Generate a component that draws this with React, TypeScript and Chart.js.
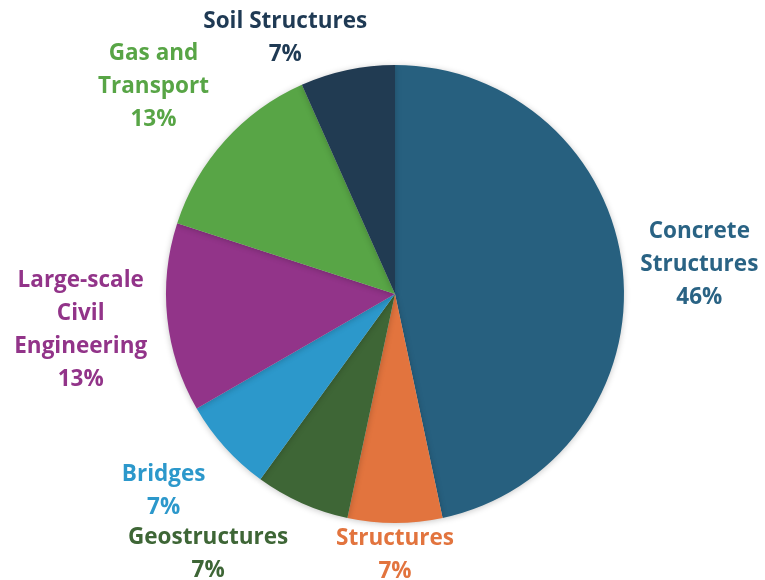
import React, { useEffect, useRef } from "react";
import { Chart, registerables } from "chart.js";

Chart.register(...registerables);

const categories: string[][] = [
  ["Concrete", "Structures"],
  ["Structures"],
  ["Geostructures"],
  ["Bridges"],
  ["Large-scale", "Civil", "Engineering"],
  ["Gas and", "Transport"],
  ["Soil Structures"],
];
const counts: number[] = [7, 1, 1, 1, 2, 2, 1];
const percentLabels: string[] = ["46%", "7%", "7%", "7%", "13%", "13%", "7%"];
const sliceColors: string[] = ["#27607F", "#E2743E", "#3E6636", "#2C98CB", "#923489", "#58A546", "#213B52"];
const textColors: string[] = ["#2A6384", "#E2743E", "#3E6636", "#2C98CB", "#923489", "#58A546", "#1F3A54"];
// label placement: extra distance beyond the outer radius and angle nudge (degrees)
const labelGap: number[] = [77, 29, 89, 73, 87, 91, 52];
const labelAngleAdj: number[] = [0, 0, 12, 2, 0, -1, -11];

const FONT = "bold 22.5px 'Open Sans', 'Noto Sans', sans-serif";
const LINE_H = 33;
const BASELINE_SHIFT = 3;

const labelPlugin = {
  id: "outsideLabels",
  afterDatasetsDraw(chart: any) {
    const ctx = chart.ctx;
    const meta = chart.getDatasetMeta(0);
    ctx.save();
    ctx.font = FONT;
    ctx.textAlign = "center";
    ctx.textBaseline = "middle";
    meta.data.forEach((arc: any, i: number) => {
      const p = arc.getProps(["x", "y", "startAngle", "endAngle", "outerRadius"], true);
      const mid = (p.startAngle + p.endAngle) / 2 + (labelAngleAdj[i] * Math.PI) / 180;
      const d = p.outerRadius + labelGap[i];
      const cx = p.x + Math.cos(mid) * d;
      const cy = p.y + Math.sin(mid) * d + BASELINE_SHIFT;
      const lines = [...categories[i], percentLabels[i]];
      const total = (lines.length - 1) * LINE_H;
      ctx.fillStyle = textColors[i];
      lines.forEach((ln, k) => {
        ctx.fillText(ln, cx, cy - total / 2 + k * LINE_H);
      });
    });
    ctx.restore();
  },
};

const shadowPlugin = {
  id: "pieShadow",
  beforeDatasetDraw(chart: any) {
    const ctx = chart.ctx;
    ctx.save();
    ctx.shadowColor = "rgba(0,0,0,0.22)";
    ctx.shadowBlur = 6;
    ctx.shadowOffsetX = 0;
    ctx.shadowOffsetY = 1;
  },
  afterDatasetDraw(chart: any) {
    chart.ctx.restore();
  },
};

export default function App() {
  const ref = useRef<HTMLCanvasElement | null>(null);
  useEffect(() => {
    if (!ref.current) return;
    const chart = new Chart(ref.current, {
      type: "pie",
      data: {
        labels: categories.map((c) => c.join(" ")),
        datasets: [
          {
            data: counts,
            backgroundColor: sliceColors,
            borderWidth: 0,
          },
        ],
      },
      options: {
        animation: false,
        responsive: true,
        maintainAspectRatio: false,
        layout: { padding: { left: 25, right: 0, top: 65, bottom: 57 } },
        plugins: {
          legend: { display: false },
          tooltip: { enabled: false },
        },
      },
      plugins: [shadowPlugin, labelPlugin],
    });
    return () => chart.destroy();
  }, []);
  return (
    <div style={{ position: "fixed", left: 0, top: 0, width: 765, height: 580, background: "#fff" }}>
      <canvas ref={ref} />
    </div>
  );
}
